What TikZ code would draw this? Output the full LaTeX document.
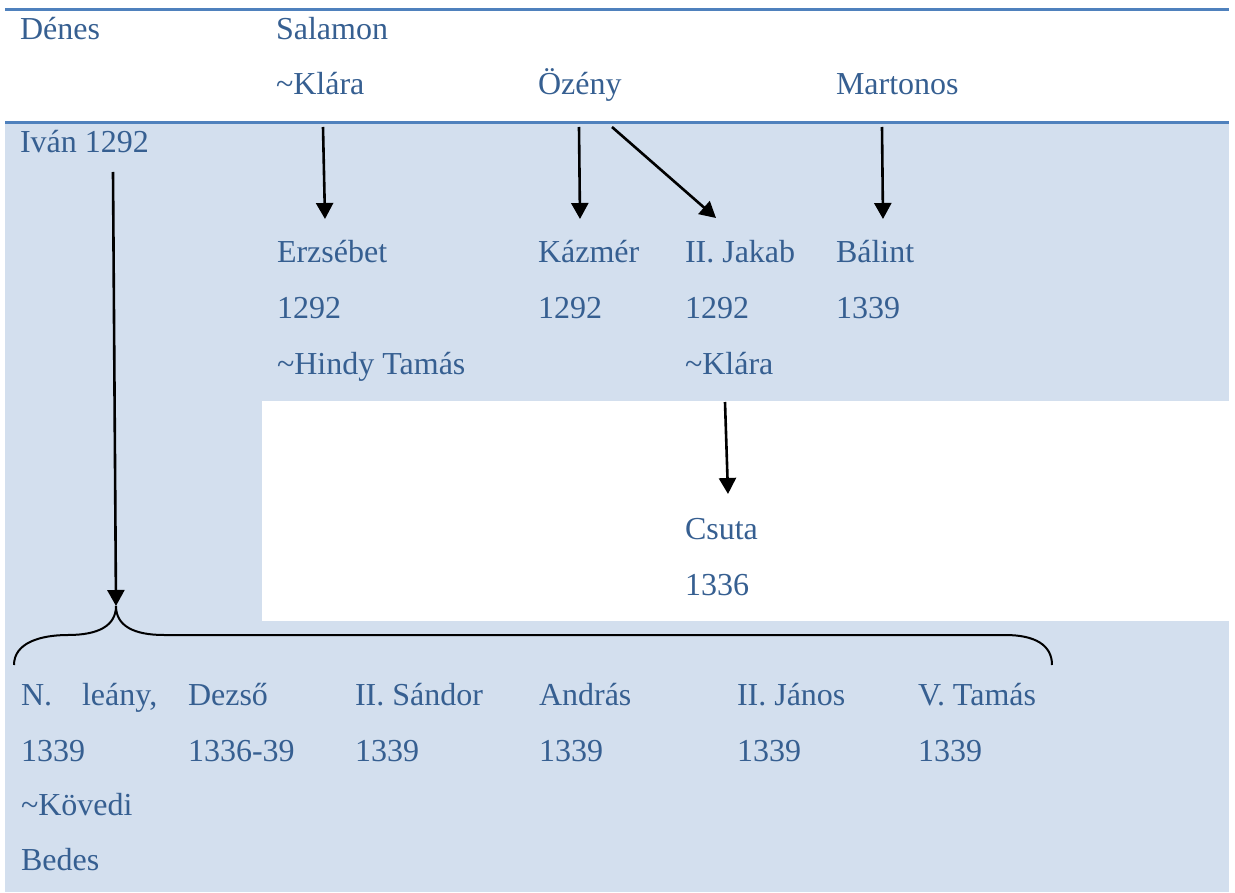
\documentclass[tikz,border=0pt]{standalone}
\usepackage{fontspec}
\setmainfont{Liberation Serif}
\usetikzlibrary{arrows.meta}
\definecolor{txtblue}{RGB}{54,95,145}
\definecolor{rulblue}{RGB}{79,129,189}
\definecolor{fillblue}{RGB}{211,223,238}
\tikzset{
  lbl/.style={anchor=base west, inner sep=0pt, outer sep=0pt, text=txtblue, font=\fontsize{32}{38}\selectfont},
  arr/.style={line width=2.6pt, -{Triangle[length=16pt,width=17pt]}},
  brace/.style={line width=2pt},
}
\begin{document}
\begin{tikzpicture}[x=1pt,y=-1pt]
\useasboundingbox (0,0) rectangle (1235,893);
% backgrounds
\fill[fillblue] (5,123) rectangle (1229,892);
\fill[white] (262,401) rectangle (1229,621);
\draw[rulblue, line width=3pt] (5,10) -- (1229,10);
\draw[rulblue, line width=3pt] (5,122.5) -- (1229,122.5);
% texts
\node[lbl] (denes) at (20,40) {Dénes};
\node[lbl] (salamon) at (276,40) {Salamon};
\node[lbl] (klara1) at (276,95) {\char"007EKlára};
\node[lbl] (ozeny) at (538,95) {Özény};
\node[lbl] (martonos) at (836,95) {Martonos};
\node[lbl] (ivan) at (20,153) {Iván 1292};
\node[lbl] (erzsebet) at (277,263) {Erzsébet};
\node[lbl] (erzy) at (277,319) {1292};
\node[lbl] (hindy) at (277,374) {\char"007EHindy Tamás};
\node[lbl] (kazmer) at (538,263) {Kázmér};
\node[lbl] (kazy) at (538,319) {1292};
\node[lbl] (jakab) at (685,263) {II. Jakab};
\node[lbl] (jaky) at (685,319) {1292};
\node[lbl] (klara2) at (685,374) {\char"007EKlára};
\node[lbl] (balint) at (836,263) {Bálint};
\node[lbl] (baly) at (836,319) {1339};
\node[lbl] (csuta) at (685,539) {Csuta};
\node[lbl] (csy) at (685,595) {1336};
\node[lbl] (leany) at (21,705) {N.\hskip 30pt leány,};
\node[lbl] (leay) at (21,761) {1339};
\node[lbl] (kovedi) at (21,815) {\char"007EKövedi};
\node[lbl] (bedes) at (21,870) {Bedes};
\node[lbl] (dezso) at (188,705) {Dezső};
\node[lbl] (dezy) at (188,761) {1336-39};
\node[lbl] (sandor) at (355,705) {II. Sándor};
\node[lbl] (sany) at (355,761) {1339};
\node[lbl] (andras) at (539,705) {András};
\node[lbl] (andy) at (539,761) {1339};
\node[lbl] (janos) at (737,705) {II. János};
\node[lbl] (jany) at (737,761) {1339};
\node[lbl] (tamas) at (918,705) {V. Tamás};
\node[lbl] (tamy) at (918,761) {1339};
% arrow end points
\coordinate (iS) at (113,172);
\coordinate (bTip) at (116,606);
\coordinate (kS) at (323,127);
\coordinate (kE) at (325,219);
\coordinate (oS1) at (579,127);
\coordinate (oE1) at (580,219);
\coordinate (oS2) at (612,127);
\coordinate (oE2) at (716,218);
\coordinate (mS) at (882,127);
\coordinate (mE) at (883,219);
\coordinate (jS) at (725,402);
\coordinate (jE) at (728,494);
% arrows
\draw[arr] (iS) -- (bTip);
\draw[arr] (kS) -- (kE);
\draw[arr] (oS1) -- (oE1);
\draw[arr] (oS2) -- (oE2);
\draw[arr] (mS) -- (mE);
\draw[arr] (jS) -- (jE);
% brace
\coordinate (bL) at (14,665);
\coordinate (bR) at (1052,665);
\draw[brace] (bL) .. controls (14,643) and (40,635) .. (68,635)
  .. controls (98,635) and (116,626) .. (bTip)
  .. controls (116,626) and (134,635) .. (164,635)
  -- (1005,635) .. controls (1035,635) and (1052,645) .. (bR);
\end{tikzpicture}
\end{document}
